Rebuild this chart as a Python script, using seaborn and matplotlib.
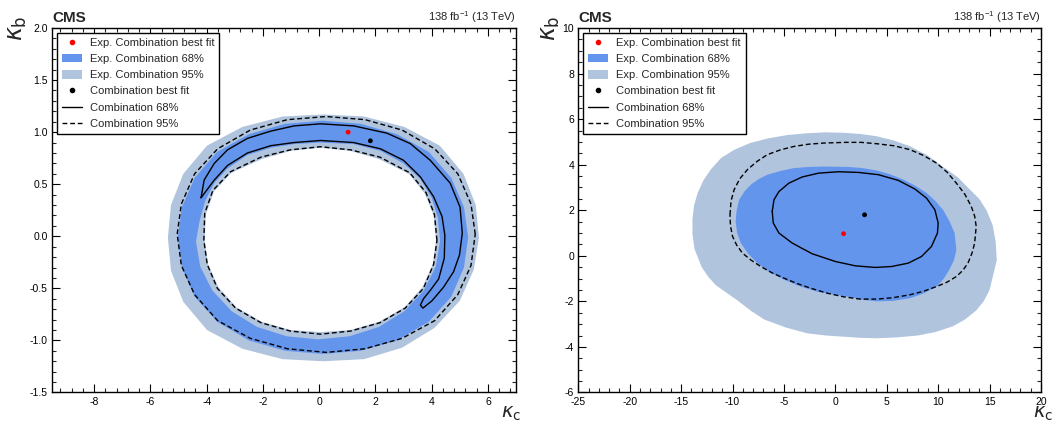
import matplotlib
matplotlib.use("Agg")
import numpy as np
import pandas as pd
import matplotlib.pyplot as plt
import seaborn as sns
from matplotlib.lines import Line2D
from matplotlib.patches import Patch
from matplotlib.ticker import MultipleLocator, FormatStrFormatter

# ---------------- data ----------------
# Left panel: kappa_c vs kappa_b
L_exp95_outer_x = [5.68, 5.57, 5.13, 4.29, 3.03, 1.60, 0.15, -1.30, -2.73, -3.99, -4.83, -5.27,
                   -5.38, -5.27, -4.83, -3.99, -2.73, -1.30, 0.15, 1.60, 2.95, 4.10, 5.00, 5.50]
L_exp95_outer_y = [-0.015, 0.30, 0.60, 0.87, 1.05, 1.15, 1.17, 1.15, 1.05, 0.87, 0.60, 0.30,
                   -0.015, -0.33, -0.63, -0.90, -1.08, -1.18, -1.20, -1.18, -1.07, -0.88, -0.62, -0.32]
L_exp95_inner_x = [4.155, 4.07, 3.76, 3.19, 2.14, 1.11, 0.045, -1.02, -2.05, -3.12, -3.74, -4.03,
                   -4.07, -3.95, -3.58, -2.95, -2.05, -1.02, 0.045, 1.11, 2.14, 3.04, 3.67, 4.04]
L_exp95_inner_y = [-0.04, 0.20, 0.41, 0.60, 0.74, 0.82, 0.85, 0.82, 0.74, 0.61, 0.43, 0.21,
                   -0.04, -0.27, -0.49, -0.68, -0.82, -0.90, -0.92, -0.90, -0.82, -0.68, -0.49, -0.27]
L_exp68_outer_x = [5.30, 5.15, 4.70, 3.90, 2.77, 1.48, 0.135, -1.21, -2.50, -3.63, -4.43, -4.88,
                   -5.03, -4.88, -4.43, -3.63, -2.50, -1.21, 0.135, 1.48, 2.77, 3.90, 4.70, 5.15]
L_exp68_outer_y = [-0.01, 0.28, 0.56, 0.81, 0.98, 1.08, 1.11, 1.08, 0.98, 0.81, 0.56, 0.28,
                   -0.01, -0.30, -0.58, -0.82, -1.00, -1.10, -1.13, -1.10, -1.00, -0.82, -0.58, -0.30]
L_exp68_inner_x = [4.30, 4.22, 4.00, 3.60, 3.00, 2.18, 1.23, 0.05, -0.90, -1.72, -2.55, -3.26, -3.73,
                   -4.05, -4.25, -4.38, -4.23, -3.80, -3.11, -2.21, -1.16, -0.04, 1.08, 2.13, 3.03, 3.72, 4.15]
L_exp68_inner_y = [-0.045, 0.18, 0.37, 0.55, 0.70, 0.82, 0.885, 0.90, 0.885, 0.85, 0.78, 0.65, 0.51,
                   0.34, 0.15, -0.05, -0.29, -0.52, -0.72, -0.87, -0.96, -0.99, -0.96, -0.87, -0.72, -0.52, -0.29]
L_comb68_x = [-4.20, -4.09, -3.73, -3.26, -2.55, -1.72, -0.89, 0.05, 1.23, 2.41, 3.24, 3.95, 4.66,
              5.01, 5.09, 4.99, 4.78, 4.42, 4.01, 3.69, 3.60,
              3.71, 3.95, 4.25, 4.45, 4.47, 4.37, 4.07, 3.60, 3.00, 2.18, 1.23, 0.05, -0.90,
              -1.72, -2.55, -3.26, -3.73, -4.09]
L_comb68_y = [0.37, 0.54, 0.70, 0.83, 0.94, 1.01, 1.06, 1.08, 1.06, 0.99, 0.89, 0.73, 0.51,
              0.28, 0.03, -0.18, -0.34, -0.49, -0.62, -0.69, -0.66,
              -0.60, -0.52, -0.41, -0.21, 0.01, 0.19, 0.38, 0.57, 0.73, 0.84, 0.90, 0.92, 0.90,
              0.87, 0.80, 0.68, 0.54, 0.41]
L_comb95_outer_x = [5.55, 5.40, 4.93, 4.11, 2.95, 1.63, 0.25, -1.13, -2.45, -3.61, -4.43, -4.90,
                    -5.05, -4.90, -4.43, -3.61, -2.45, -1.13, 0.25, 1.63, 2.95, 4.11, 4.93, 5.40]
L_comb95_outer_y = [0.02, 0.31, 0.60, 0.84, 1.02, 1.12, 1.15, 1.12, 1.02, 0.84, 0.60, 0.31,
                    0.02, -0.28, -0.56, -0.81, -0.98, -1.08, -1.115, -1.08, -0.98, -0.81, -0.56, -0.28]
L_comb95_inner_x = [4.19, 4.10, 3.80, 3.22, 2.16, 1.12, 0.045, -1.03, -2.07, -3.15, -3.78, -4.07,
                    -4.10, -3.98, -3.62, -2.97, -2.07, -1.03, 0.045, 1.12, 2.16, 3.06, 3.71, 4.07]
L_comb95_inner_y = [-0.04, 0.21, 0.42, 0.61, 0.76, 0.83, 0.86, 0.83, 0.76, 0.62, 0.44, 0.22,
                    -0.04, -0.27, -0.50, -0.69, -0.83, -0.91, -0.94, -0.91, -0.83, -0.69, -0.50, -0.27]
L_exp_best = (1.03, 1.00)
L_comb_best = (1.82, 0.917)

# Right panel: kappa_c vs kappa_b (wider range)
R_exp95_x = [-13.9, -13.75, -13.4, -12.85, -12.1, -11.1, -9.85, -8.3, -6.6, -4.7, -2.75, -1.0, 0.8,
             2.4, 4.0, 5.7, 7.3, 9.0, 10.5, 11.9, 13.1, 14.0, 14.7, 15.3, 15.6,
             15.7, 15.0, 14.45, 13.7, 12.6, 11.4, 9.7, 8.0, 6.0, 4.0, 2.4, 0.8, -0.9, -2.75,
             -4.8, -6.9, -8.2, -9.55, -11.6, -12.35, -13.0, -13.7, -13.9]
R_exp95_y = [1.6, 2.2, 2.75, 3.3, 3.8, 4.3, 4.65, 4.95, 5.15, 5.3, 5.38, 5.42, 5.4,
             5.35, 5.25, 5.06, 4.8, 4.4, 3.9, 3.45, 2.9, 2.5, 2.0, 1.35, 0.6,
             -0.2, -1.5, -1.98, -2.4, -2.8, -3.1, -3.35, -3.5, -3.58, -3.62, -3.6, -3.55, -3.5, -3.4,
             -3.15, -2.8, -2.42, -1.95, -1.3, -0.93, -0.5, 0.3, 0.95]
R_exp68_x = [-9.7, -9.6, -9.36, -8.85, -8.23, -7.45, -6.62, -5.3, -4.04, -2.6, -1.13, 1.3, 2.65,
             4.0, 5.3, 6.6, 7.8, 8.9, 9.75, 10.5, 11.1, 11.6, 11.77,
             11.55, 11.1, 10.55, 9.85, 8.6, 7.3, 5.6, 4.0, 2.6, 1.3, -0.25, -1.8, -3.4, -5.0,
             -6.4, -7.6, -8.5, -9.2, -9.55]
R_exp68_y = [1.5, 2.0, 2.46, 2.82, 3.12, 3.37, 3.56, 3.73, 3.85, 3.9, 3.92, 3.9, 3.85,
             3.75, 3.58, 3.35, 3.07, 2.75, 2.4, 2.0, 1.52, 1.0, 0.26,
             -0.18, -0.6, -1.0, -1.35, -1.65, -1.86, -1.98, -2.0, -1.93, -1.8, -1.7, -1.57, -1.35, -1.05,
             -0.72, -0.32, 0.1, 0.56, 1.0]
R_comb68_x = [-6.14, -5.97, -5.49, -4.52, -3.23, -1.62, 0.32, 2.26, 4.19, 6.13, 7.74, 8.87, 9.68,
              10.0, 9.93, 9.35, 8.38, 7.10, 5.48, 3.87, 1.94, 0.0, -2.26, -4.2, -5.49, -6.04]
R_comb68_y = [1.95, 2.46, 2.82, 3.19, 3.46, 3.63, 3.69, 3.66, 3.56, 3.31, 2.93, 2.53, 2.02,
              1.44, 1.0, 0.41, -0.03, -0.32, -0.47, -0.51, -0.44, -0.25, 0.09, 0.56, 1.0, 1.44]
R_comb95_x = [-10.25, -10.15, -9.85, -9.3, -8.56, -7.6, -6.62, -5.35, -4.04, -2.6, -1.13, 1.0, 2.5,
              4.03, 5.7, 7.26, 8.6, 9.84, 10.85, 11.77, 12.6, 13.22, 13.55, 13.7,
              13.55, 13.3, 12.9, 12.4, 11.77, 10.85, 9.84, 8.55, 7.26, 5.6, 4.03, 2.4, 0.8, -0.8,
              -2.42, -3.7, -5.0, -6.15, -7.26, -8.2, -9.04, -9.6, -10.0, -10.2]
R_comb95_y = [1.8, 2.4, 2.9, 3.38, 3.78, 4.15, 4.44, 4.65, 4.8, 4.9, 4.95, 4.98, 4.98,
              4.92, 4.83, 4.66, 4.4, 4.07, 3.68, 3.19, 2.7, 2.17, 1.74, 1.29,
              0.56, 0.13, -0.32, -0.64, -0.91, -1.16, -1.35, -1.56, -1.71, -1.84, -1.9, -1.9, -1.8, -1.64,
              -1.42, -1.22, -0.98, -0.75, -0.47, -0.19, 0.12, 0.47, 0.85, 1.3]
R_exp_best = (0.8, 0.97)
R_comb_best = (2.84, 1.80)

legend_labels = ["Exp. Combination best fit", "Exp. Combination 68%", "Exp. Combination 95%",
                 "Combination best fit", "Combination 68%", "Combination 95%"]

# ---------------- style ----------------
sns.set_theme(style="ticks")
plt.rcParams['font.family'] = ['Liberation Sans', 'DejaVu Sans']
plt.rcParams['mathtext.fontset'] = 'dejavusans'
plt.rcParams['axes.linewidth'] = 1.0
plt.rcParams['axes.unicode_minus'] = False

C68 = '#6495ED'
C95 = '#B0C4DE'
DASH = (0, (3.5, 2.0))


def closed(x, y):
    return pd.DataFrame({'x': list(x) + [x[0]], 'y': list(y) + [y[0]]})


def fill(ax, x, y, color, z):
    d = closed(x, y)
    ax.fill(d['x'], d['y'], color=color, lw=0, zorder=z)


def line(ax, x, y, ls, z=4):
    d = closed(x, y)
    sns.lineplot(data=d, x='x', y='y', sort=False, estimator=None, color='black',
                 lw=1.0, linestyle=ls, ax=ax, zorder=z)


def dots(ax, p, color):
    sns.scatterplot(x=[p[0]], y=[p[1]], color=color, s=12, edgecolor='none', ax=ax,
                    zorder=6, legend=False)


def decorate(ax, xlim, ylim, xmaj, xmin, ymaj, ymin, yfmt, ylab_x, xlab_x):
    ax.set_xlim(*xlim)
    ax.set_ylim(*ylim)
    ax.xaxis.set_major_locator(MultipleLocator(xmaj))
    ax.xaxis.set_minor_locator(MultipleLocator(xmin))
    ax.yaxis.set_major_locator(MultipleLocator(ymaj))
    ax.yaxis.set_minor_locator(MultipleLocator(ymin))
    if yfmt:
        ax.yaxis.set_major_formatter(FormatStrFormatter(yfmt))
    ax.tick_params(which='major', direction='in', length=6, width=0.8, top=True, right=True,
                   labelsize=7.5, pad=3, colors='black')
    ax.tick_params(which='minor', direction='in', length=3, width=0.8, top=True, right=True)
    for s in ax.spines.values():
        s.set_color('black')
        s.set_linewidth(1.0)
    ax.set_xlabel('')
    ax.set_ylabel('')
    ax.text(0.0, 1.008, 'CMS', transform=ax.transAxes, ha='left', va='bottom',
            fontsize=11, fontweight='bold')
    ax.text(1.0, 1.008, r'138 fb$^{\mathregular{-1}}$ (13 TeV)', transform=ax.transAxes,
            ha='right', va='bottom', fontsize=8)
    ax.text(ylab_x, 1.035, r'$\kappa_{\mathrm{b}}$', transform=ax.transAxes, rotation=90,
            ha='center', va='top', fontsize=17)
    ax.text(xlab_x, -0.0845, r'$\kappa_{\mathrm{c}}$', transform=ax.transAxes,
            ha='right', va='bottom', fontsize=14)
    handles = [Line2D([], [], marker='o', ls='none', color='red', markersize=3),
               Patch(facecolor=C68, edgecolor='none'),
               Patch(facecolor=C95, edgecolor='none'),
               Line2D([], [], marker='o', ls='none', color='black', markersize=3),
               Line2D([], [], color='black', lw=1.0),
               Line2D([], [], color='black', lw=1.0, ls=DASH)]
    leg = ax.legend(handles, legend_labels, loc='upper left', bbox_to_anchor=(0.011, 0.986),
                    frameon=True, fancybox=False, edgecolor='black', framealpha=1,
                    fontsize=8, handlelength=1.75, handleheight=0.75, labelspacing=0.55,
                    borderpad=0.45, handletextpad=0.75, borderaxespad=0)
    leg.get_frame().set_linewidth(1.0)
    leg.set_zorder(10)


fig = plt.figure(figsize=(10.55, 4.25), dpi=100)
axL = fig.add_axes([0.0493, 0.0765, 0.4398, 0.8576])
axR = fig.add_axes([0.5482, 0.0765, 0.4385, 0.8576])

# Left panel
fill(axL, L_exp95_outer_x, L_exp95_outer_y, C95, 1)
fill(axL, L_exp68_outer_x, L_exp68_outer_y, C68, 2)
fill(axL, L_exp68_inner_x, L_exp68_inner_y, C95, 3)
fill(axL, L_exp95_inner_x, L_exp95_inner_y, 'white', 3.5)
line(axL, L_comb68_x, L_comb68_y, '-')
line(axL, L_comb95_outer_x, L_comb95_outer_y, DASH)
line(axL, L_comb95_inner_x, L_comb95_inner_y, DASH)
dots(axL, L_exp_best, 'red')
dots(axL, L_comb_best, 'black')
decorate(axL, (-9.5, 7.0), (-1.5, 2.0), 2, 0.4, 0.5, 0.1, '%.1f', -0.073, 1.012)

# Right panel
fill(axR, R_exp95_x, R_exp95_y, C95, 1)
fill(axR, R_exp68_x, R_exp68_y, C68, 2)
line(axR, R_comb68_x, R_comb68_y, '-')
line(axR, R_comb95_x, R_comb95_y, DASH)
dots(axR, R_exp_best, 'red')
dots(axR, R_comb_best, 'black')
decorate(axR, (-25, 20), (-6, 10), 5, 1, 2, 0.5, None, -0.06, 1.027)

fig.savefig('out.png', dpi=100)
